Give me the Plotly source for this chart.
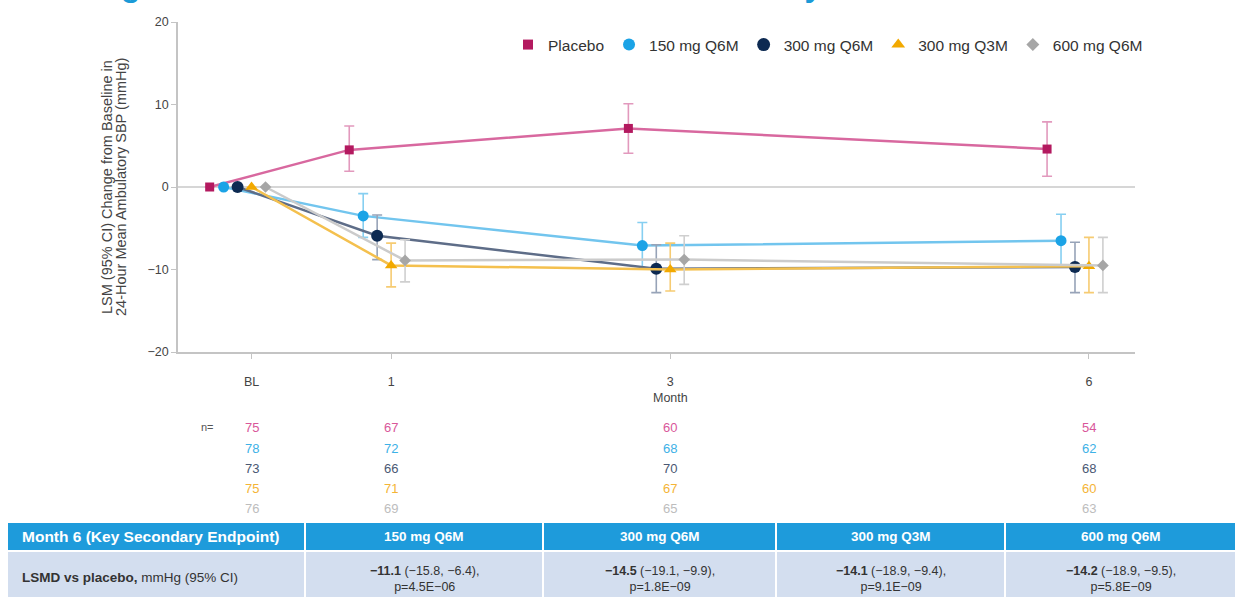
import plotly.graph_objects as go

W, H = 1235, 597

# ---- data -------------------------------------------------------------
months = [0, 1, 3, 6]
tick_text = ["BL", "1", "3", "6"]

series_names = ["Placebo", "150 mg Q6M", "300 mg Q6M", "300 mg Q3M", "600 mg Q6M"]

lsm_placebo = [0, 4.5, 7.1, 4.6]
ci_lo_placebo = [None, 1.9, 4.1, 1.3]
ci_hi_placebo = [None, 7.4, 10.1, 7.9]

lsm_150q6m = [0, -3.5, -7.1, -6.5]
ci_lo_150q6m = [None, -6.1, -9.9, -9.7]
ci_hi_150q6m = [None, -0.8, -4.3, -3.3]

lsm_300q6m = [0, -5.9, -9.9, -9.7]
ci_lo_300q6m = [None, -8.8, -12.8, -12.8]
ci_hi_300q6m = [None, -3.4, -7.0, -6.7]

lsm_300q3m = [0, -9.5, -10.0, -9.6]
ci_lo_300q3m = [None, -12.1, -12.6, -12.8]
ci_hi_300q3m = [None, -6.8, -6.8, -6.1]

lsm_600q6m = [0, -8.9, -8.8, -9.5]
ci_lo_600q6m = [None, -11.5, -11.8, -12.8]
ci_hi_600q6m = [None, -6.4, -5.9, -6.1]

n_placebo = [75, 67, 60, 54]
n_150q6m = [78, 72, 68, 62]
n_300q6m = [73, 66, 70, 68]
n_300q3m = [75, 71, 67, 60]
n_600q6m = [76, 69, 65, 63]

table_header = ["Month 6 (Key Secondary Endpoint)", "150 mg Q6M", "300 mg Q6M",
                "300 mg Q3M", "600 mg Q6M"]
table_row_label = ("LSMD vs placebo", "mmHg (95% CI)")
lsmd = [-11.1, -14.5, -14.1, -14.2]
lsmd_ci_lo = [-15.8, -19.1, -18.9, -18.9]
lsmd_ci_hi = [-6.4, -9.9, -9.4, -9.5]
p_values = ["4.5E\u221206", "1.8E\u221209", "9.1E\u221209", "5.8E\u221209"]

y_title_lines = ["LSM (95% CI) Change from Baseline in",
                 "24-Hour Mean Ambulatory SBP (mmHg)"]

# ---- styling ------------------------------------------------------------
offsets = [-0.3, -0.2, -0.1, 0.0, 0.1]
marker_colors = ["#B3195F", "#1BA3E6", "#0D2A52", "#F2A900", "#A6A6A6"]
line_colors = ["#D8689F", "#72C5EE", "#5E6D88", "#F4C04E", "#CBCBCB"]
err_colors = ["#E299BD", "#86CFF1", "#97A3B8", "#F6CB72", "#CFCFCF"]
n_colors = ["#D9579A", "#3DB1E6", "#4A5873", "#F4B436", "#BDBDBD"]
symbols = ["square", "circle", "circle", "triangle-up", "diamond"]
sizes = [9, 11, 12, 11, 9]

FONT = "Liberation Sans, Arial, sans-serif"

# plot area in pixels
L, R, T, B = 178, 1135, 22, 352


def fx(px):
    return (px - L) / (R - L)


def fy(py):
    return (B - py) / (B - T)


lsm_all = [lsm_placebo, lsm_150q6m, lsm_300q6m, lsm_300q3m, lsm_600q6m]
lo_all = [ci_lo_placebo, ci_lo_150q6m, ci_lo_300q6m, ci_lo_300q3m, ci_lo_600q6m]
hi_all = [ci_hi_placebo, ci_hi_150q6m, ci_hi_300q6m, ci_hi_300q3m, ci_hi_600q6m]
n_all = [n_placebo, n_150q6m, n_300q6m, n_300q3m, n_600q6m]

fig = go.Figure()

for i, name in enumerate(series_names):
    xs = [m + offsets[i] for m in months]
    ys = lsm_all[i]
    plus = [None if h is None else h - y for h, y in zip(hi_all[i], ys)]
    minus = [None if l is None else y - l for l, y in zip(lo_all[i], ys)]
    # connecting line with confidence intervals
    fig.add_trace(go.Scatter(
        x=xs, y=ys, mode="lines", showlegend=False, hoverinfo="skip",
        line=dict(color=line_colors[i], width=2.5),
        error_y=dict(type="data", array=plus, arrayminus=minus, symmetric=False,
                     color=err_colors[i], thickness=1.6, width=5),
    ))
    # point estimates
    fig.add_trace(go.Scatter(
        x=xs, y=ys, mode="markers", name=name, showlegend=False,
        marker=dict(symbol=symbols[i], size=sizes[i], color=marker_colors[i],
                    line=dict(width=0)),
    ))

# legend entries (markers only)
for i, name in enumerate(series_names):
    fig.add_trace(go.Scatter(
        x=[None], y=[None], mode="markers", name=name,
        marker=dict(symbol=symbols[i], size=sizes[i] + 1, color=marker_colors[i]),
    ))

annotations = []

# title (runs off the top edge)
annotations.append(dict(
    text="<b>Change from Baseline in 24-Hour Mean Ambulatory SBP</b>",
    xref="paper", yref="paper", x=fx(39), y=fy(5), xanchor="left", yanchor="bottom",
    showarrow=False, font=dict(family=FONT, size=32, color="#1B9AD7"),
))

# y-axis title, one annotation per line
for k, (line_txt, px) in enumerate(zip(y_title_lines, [107, 121])):
    annotations.append(dict(
        text=line_txt, xref="paper", yref="paper", x=fx(px), y=fy(187),
        xanchor="center", yanchor="middle", textangle=-90, showarrow=False,
        font=dict(family=FONT, size=14.5, color="#444444"),
    ))

# x-axis title
annotations.append(dict(
    text="Month", xref="paper", yref="paper", x=fx(670), y=fy(398),
    xanchor="center", yanchor="middle", showarrow=False,
    font=dict(family=FONT, size=12.5, color="#444444"),
))

# patient counts under the axis
n_rows_py = [427, 448, 468, 488, 508]
annotations.append(dict(
    text="n=", xref="paper", yref="paper", x=fx(207), y=fy(n_rows_py[0]),
    xanchor="center", yanchor="middle", showarrow=False,
    font=dict(family=FONT, size=11, color="#555555"),
))
for i in range(len(series_names)):
    for j, m in enumerate(months):
        annotations.append(dict(
            text=str(n_all[i][j]), xref="x", yref="paper", x=m, y=fy(n_rows_py[i]),
            xanchor="center", yanchor="middle", showarrow=False,
            font=dict(family=FONT, size=13, color=n_colors[i]),
        ))

# summary table at the bottom
col_edges = [8, 305, 543, 776, 1005, 1237]
head_top, head_bot = 523, 550
body_top, body_bot = 552, 600
shapes = []
for c in range(5):
    x0 = col_edges[c] + (0 if c == 0 else 1)
    x1 = col_edges[c + 1] - 1
    shapes.append(dict(type="rect", xref="paper", yref="paper",
                       x0=fx(x0), x1=fx(x1), y0=fy(head_bot), y1=fy(head_top),
                       fillcolor="#1E9BDB", line=dict(width=0), layer="above"))
    shapes.append(dict(type="rect", xref="paper", yref="paper",
                       x0=fx(x0), x1=fx(x1), y0=fy(body_bot), y1=fy(body_top),
                       fillcolor="#D3DEEF", line=dict(width=0), layer="above"))
    hx = fx(20) if c == 0 else fx((col_edges[c] + col_edges[c + 1]) / 2)
    annotations.append(dict(
        text="<b>" + table_header[c] + "</b>", xref="paper", yref="paper",
        x=hx, y=fy((head_top + head_bot) / 2),
        xanchor="left" if c == 0 else "center", yanchor="middle", showarrow=False,
        font=dict(family=FONT, size=15.5 if c == 0 else 13.5, color="white"),
    ))

annotations.append(dict(
    text="<b>" + table_row_label[0] + ",</b> " + table_row_label[1],
    xref="paper", yref="paper", x=fx(20), y=fy(577),
    xanchor="left", yanchor="middle", showarrow=False,
    font=dict(family=FONT, size=13.5, color="#333333"),
))


def fmt(v):
    return ("\u2212" if v < 0 else "") + f"{abs(v):.1f}"


for k in range(4):
    cx = (col_edges[k + 1] + col_edges[k + 2]) / 2
    txt = (f"<b>{fmt(lsmd[k])}</b> ({fmt(lsmd_ci_lo[k])}, {fmt(lsmd_ci_hi[k])}),"
           f"<br>p={p_values[k]}")
    annotations.append(dict(
        text=txt, xref="paper", yref="paper", x=fx(cx), y=fy(579),
        xanchor="center", yanchor="middle", showarrow=False, align="center",
        font=dict(family=FONT, size=12.5, color="#333333"),
    ))

fig.update_layout(
    width=W, height=H,
    margin=dict(l=L, r=W - R, t=T, b=H - B, pad=0),
    paper_bgcolor="white", plot_bgcolor="white",
    font=dict(family=FONT, color="#444444"),
    showlegend=True,
    legend=dict(orientation="h", x=fx(508), y=fy(45), xanchor="left", yanchor="middle",
                font=dict(family=FONT, size=15.5, color="#333333"),
                bgcolor="rgba(0,0,0,0)", itemclick=False, tracegroupgap=0),
    xaxis=dict(range=[-0.527, 6.33], tickvals=months, ticktext=tick_text,
               showgrid=False, zeroline=False, showline=True, linecolor="#C4C4C4",
               linewidth=1.5, ticks="outside", ticklen=5, tickcolor="#C4C4C4",
               tickfont=dict(family=FONT, size=12.5, color="#444444"),
               ticklabelstandoff=12),
    yaxis=dict(range=[-20, 20], tickvals=[-20, -10, 0, 10, 20],
               showgrid=False, zeroline=True, zerolinecolor="#D6D6D6", zerolinewidth=2,
               showline=True, linecolor="#C4C4C4", linewidth=1.5,
               ticks="outside", ticklen=5, tickcolor="#C4C4C4",
               tickfont=dict(family=FONT, size=12.5, color="#444444")),
    annotations=annotations,
    shapes=shapes,
)

fig.write_html("out.html")
